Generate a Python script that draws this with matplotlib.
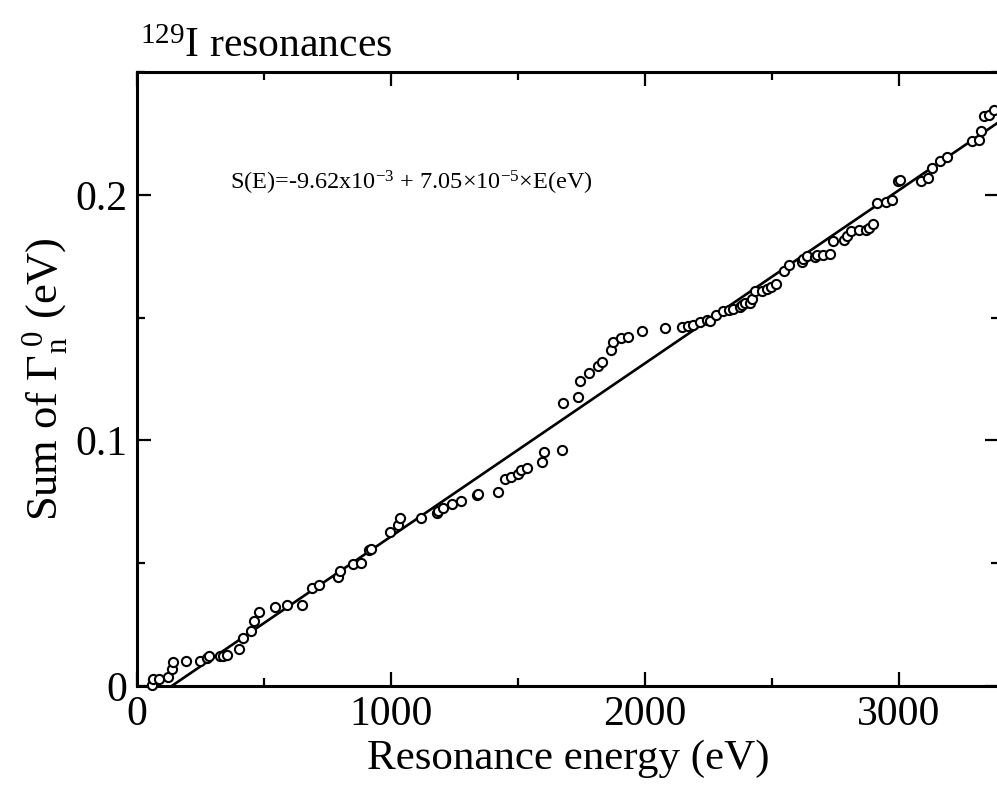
import numpy as np
import matplotlib
matplotlib.use("Agg")
import matplotlib.pyplot as plt
from matplotlib.ticker import MultipleLocator

# resonance energy (eV) and cumulative reduced neutron width (eV)
energy = [
    57.9, 61.8, 87.8, 120.9, 136.6, 142.9, 191.7, 248.0, 276.8, 284.6,
    326.8, 339.8, 355.5, 401.6, 418.5, 448.8, 460.6, 481.5, 543.3, 589.4,
    648.4, 687.8, 716.5, 792.5, 799.2, 849.2, 881.9, 914.6, 920.1, 996.1,
    1028.7, 1035.4, 1116.9, 1179.9, 1186.2, 1205.9, 1238.9, 1275.6, 1338.6, 1343.7,
    1420.1, 1448.8, 1474.4, 1502.0, 1511.8, 1535.4, 1593.3, 1603.1, 1674.4, 1678.3,
    1737.4, 1744.1, 1780.7, 1816.1, 1829.5, 1864.9, 1875.2, 1904.3, 1931.9, 1989.4,
    2078.7, 2147.6, 2170.5, 2190.2, 2218.5, 2242.9, 2257.9, 2279.5, 2308.3, 2332.7,
    2346.5, 2374.0, 2381.9, 2393.7, 2413.4, 2420.1, 2435.0, 2460.6, 2482.3, 2496.9,
    2515.7, 2548.0, 2568.1, 2616.9, 2622.0, 2636.6, 2669.3, 2676.8, 2702.8, 2730.3,
    2741.3, 2783.5, 2794.1, 2813.0, 2841.7, 2869.3, 2883.1, 2898.8, 2913.4, 2950.0,
    2974.4, 2997.2, 3005.9, 3085.8, 3115.4, 3128.7, 3161.4, 3190.9, 3286.2, 3314.2,
    3322.0, 3334.6, 3354.3, 3374.0,
]
gamma_sum = [
    0.0004, 0.0027, 0.0030, 0.0035, 0.0069, 0.0099, 0.0102, 0.0103, 0.0113, 0.0122,
    0.0122, 0.0122, 0.0125, 0.0149, 0.0194, 0.0224, 0.0266, 0.0302, 0.0323, 0.0330,
    0.0330, 0.0398, 0.0411, 0.0443, 0.0468, 0.0496, 0.0500, 0.0554, 0.0557, 0.0629,
    0.0656, 0.0683, 0.0683, 0.0703, 0.0714, 0.0724, 0.0741, 0.0754, 0.0778, 0.0782,
    0.0791, 0.0842, 0.0853, 0.0862, 0.0880, 0.0887, 0.0914, 0.0954, 0.0961, 0.1152,
    0.1176, 0.1240, 0.1276, 0.1303, 0.1319, 0.1369, 0.1402, 0.1416, 0.1423, 0.1447,
    0.1457, 0.1462, 0.1465, 0.1470, 0.1481, 0.1491, 0.1486, 0.1511, 0.1525, 0.1530,
    0.1534, 0.1545, 0.1552, 0.1559, 0.1559, 0.1576, 0.1609, 0.1610, 0.1618, 0.1624,
    0.1635, 0.1688, 0.1713, 0.1728, 0.1738, 0.1749, 0.1747, 0.1756, 0.1756, 0.1759,
    0.1810, 0.1817, 0.1833, 0.1851, 0.1855, 0.1857, 0.1864, 0.1883, 0.1967, 0.1971,
    0.1980, 0.2055, 0.2059, 0.2058, 0.2068, 0.2109, 0.2138, 0.2155, 0.2217, 0.2222,
    0.2260, 0.2319, 0.2326, 0.2346,
]

# linear fit given on the chart
fit_a = -9.62e-3
fit_b = 7.05e-5

x_max = 3394
y_max = 0.25

plt.rcParams["font.family"] = ["Liberation Serif", "DejaVu Serif"]
plt.rcParams["mathtext.fontset"] = "custom"
plt.rcParams["mathtext.rm"] = "Liberation Serif"
plt.rcParams["mathtext.it"] = "Liberation Serif:italic"

fig = plt.figure(figsize=(9.97, 7.90), dpi=100)
ax = fig.add_axes([0.1374, 0.1316, 1.002 - 0.1374, 0.9089 - 0.1316])

# fitted line, drawn from where it crosses zero
e0 = -fit_a / fit_b
e_line = np.array([e0, x_max])
ax.plot(e_line, fit_a + fit_b * e_line, color="black", lw=1.9, zorder=2)

ax.plot(energy, gamma_sum, "o", ms=6.6, mfc="white", mec="black", mew=1.5,
        zorder=3, clip_on=False)

ax.set_xlim(0, x_max)
ax.set_ylim(0, y_max)
ax.xaxis.set_major_locator(MultipleLocator(1000))
ax.xaxis.set_minor_locator(MultipleLocator(500))
ax.yaxis.set_major_locator(MultipleLocator(0.1))
ax.yaxis.set_minor_locator(MultipleLocator(0.05))
ax.set_yticks([0, 0.1, 0.2])
ax.set_yticklabels(["0", "0.1", "0.2"])

ax.tick_params(which="both", direction="in", top=True, right=True,
               labelsize=30, width=1.6, pad=7)
ax.tick_params(which="major", length=10)
ax.tick_params(which="minor", length=6)
for sp in ax.spines.values():
    sp.set_linewidth(2.2)

ax.set_xlabel("Resonance energy (eV)", fontsize=31, labelpad=4)
ax.set_ylabel(r"Sum of $\Gamma_\mathrm{n}^{\ 0}$ (eV)", fontsize=32, labelpad=4)

ax.text(366, 0.202, r"S(E)=-9.62x10$^{-3}$ + 7.05$\times$10$^{-5}$$\times$E(eV)",
        fontsize=17.5, va="baseline", ha="left")

fig.text(0.14, 0.928, r"$^{129}$I resonances", fontsize=30, ha="left", va="baseline")

fig.savefig("out.png", dpi=100, facecolor="white")
